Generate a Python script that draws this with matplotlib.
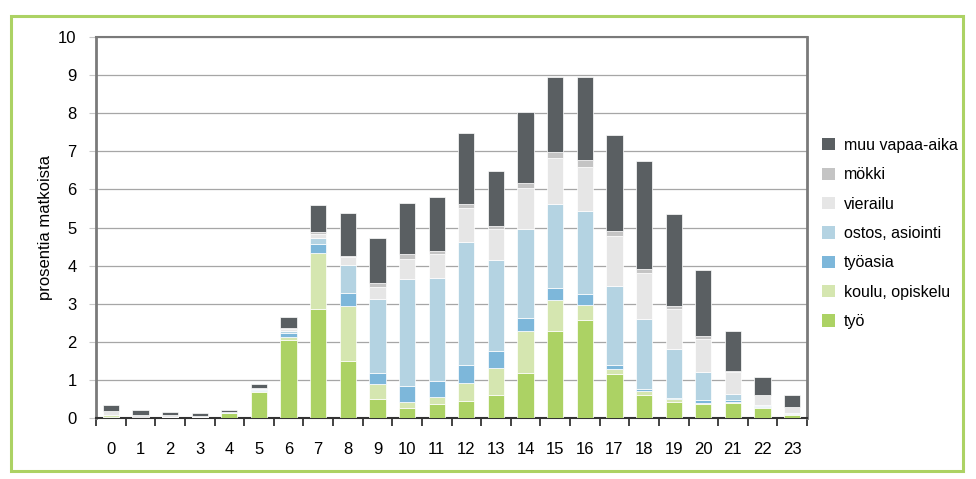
import matplotlib
matplotlib.use("Agg")
import matplotlib.pyplot as plt
import numpy as np
from matplotlib.patches import Rectangle, Patch

plt.rcParams['font.family'] = ['Liberation Sans', 'DejaVu Sans']

hours = [str(h) for h in range(24)]

tyo = [0.03, 0.01, 0.03, 0.03, 0.12, 0.68, 2.05, 2.87, 1.50, 0.50, 0.26, 0.37,
       0.45, 0.60, 1.18, 2.28, 2.57, 1.16, 0.60, 0.43, 0.36, 0.39, 0.27, 0.08]
koulu = [0.05, 0.00, 0.00, 0.00, 0.01, 0.02, 0.07, 1.46, 1.44, 0.39, 0.16, 0.17,
         0.48, 0.71, 1.10, 0.81, 0.40, 0.12, 0.10, 0.06, 0.03, 0.04, 0.01, 0.02]
tyoasia = [0.00, 0.00, 0.00, 0.00, 0.01, 0.03, 0.12, 0.24, 0.35, 0.30, 0.43, 0.42,
           0.46, 0.44, 0.35, 0.31, 0.28, 0.11, 0.06, 0.03, 0.07, 0.03, 0.03, 0.00]
ostos = [0.00, 0.00, 0.00, 0.00, 0.02, 0.03, 0.05, 0.15, 0.73, 1.94, 2.79, 2.72,
         3.22, 2.40, 2.33, 2.22, 2.17, 2.08, 1.83, 1.30, 0.74, 0.16, 0.03, 0.04]
vierailu = [0.10, 0.07, 0.05, 0.02, 0.01, 0.02, 0.04, 0.12, 0.20, 0.32, 0.53, 0.62,
            0.89, 0.81, 1.08, 1.20, 1.17, 1.31, 1.21, 1.03, 0.87, 0.60, 0.26, 0.14]
mokki = [0.00, 0.00, 0.00, 0.00, 0.00, 0.00, 0.02, 0.03, 0.04, 0.09, 0.13, 0.08,
         0.11, 0.07, 0.13, 0.16, 0.19, 0.14, 0.10, 0.09, 0.07, 0.02, 0.01, 0.01]
muu = [0.17, 0.12, 0.08, 0.07, 0.03, 0.11, 0.29, 0.72, 1.12, 1.18, 1.35, 1.43,
       1.86, 1.44, 1.85, 1.97, 2.17, 2.51, 2.84, 2.41, 1.74, 1.04, 0.46, 0.31]

series = [
    ("työ", tyo, "#acd264"),
    ("koulu, opiskelu", koulu, "#d5e6b0"),
    ("työasia", tyoasia, "#7db7da"),
    ("ostos, asiointi", ostos, "#b4d3e2"),
    ("vierailu", vierailu, "#e6e6e6"),
    ("mökki", mokki, "#c4c4c4"),
    ("muu vapaa-aika", muu, "#5a5f62"),
]

fig = plt.figure(figsize=(9.76, 4.79), dpi=100)
ax = fig.add_axes([96/976, 1-418/479, (807-96)/976, (418-37)/479])

x = np.arange(len(hours))
bottom = np.zeros(len(hours))
handles = []
for name, vals, col in series:
    v = np.array(vals)
    ax.bar(x, v, width=0.55, bottom=bottom, color=col, edgecolor='white',
           linewidth=0.5, zorder=3)
    bottom += v
    handles.append(Patch(facecolor=col, edgecolor='none', label=name))

ax.set_xlim(-0.5, 23.5)
ax.set_ylim(0, 10)
ax.set_yticks(range(0, 11))
ax.set_xticks(x)
ax.set_xticklabels(hours)
ax.set_xticks(np.arange(-0.5, 24, 1), minor=True)
ax.tick_params(axis='x', which='major', length=0, pad=17, labelsize=12)
ax.tick_params(axis='x', which='minor', length=6, width=1.2, color='#222222', direction='out')
ax.tick_params(axis='y', length=5, width=0.8, color='#c8c8c8', labelsize=12, pad=9)
ax.yaxis.grid(True, color='#a6a6a6', linewidth=0.9, zorder=0)
ax.set_axisbelow(True)

for s in ['left', 'right']:
    ax.spines[s].set_color('#7a7a7a')
    ax.spines[s].set_linewidth(2.0)
ax.spines['top'].set_color('#7a7a7a')
ax.spines['top'].set_linewidth(1.5)
ax.spines['bottom'].set_color('#333333')
ax.spines['bottom'].set_linewidth(1.5)

fig.text(46/976, 1-228/479, "prosentia matkoista", rotation=90, ha='center',
         va='center', fontsize=12)

leg = fig.legend(handles=handles[::-1], loc='center left',
                 bbox_to_anchor=(822/976, 1-233.5/479), frameon=False,
                 fontsize=11.5, handlelength=0.8, handleheight=0.8,
                 handletextpad=0.55, labelspacing=0.9, borderpad=0,
                 borderaxespad=0)

border = Rectangle((11/976, 1-471/479), (963-11)/976, (471-16)/479,
                   transform=fig.transFigure, fill=False, edgecolor='#acd264',
                   linewidth=2.2)
fig.patches.append(border)

fig.savefig("out.png", dpi=100)
